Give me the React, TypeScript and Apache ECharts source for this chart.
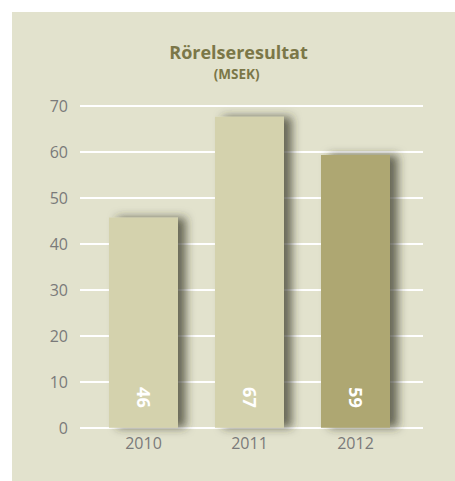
import React, { useEffect, useRef } from "react";
import * as echarts from "echarts";

const categories = ["2010", "2011", "2012"];
const values = [45.7, 67.6, 59.3];
const valueLabels = ["46", "67", "59"];
const barColors = ["#d4d2ad", "#d4d2ad", "#aea772"];
const yTicks = { min: 0, max: 70, interval: 10 };
const titleText = "Rörelseresultat";
const subtitleText = "(MSEK)";

export default function App() {
  const ref = useRef<HTMLDivElement>(null);
  useEffect(() => {
    if (!ref.current) return;
    const chart = echarts.init(ref.current, null, { renderer: "svg" });
    const font = "'Open Sans', sans-serif";
    const top = 105.7;
    const bottom = 481 - 427.7;
    chart.setOption({
      animation: false,
      backgroundColor: "#ffffff",
      graphic: [
        {
          type: "rect",
          shape: { x: 12, y: 12, width: 443, height: 469 },
          style: { fill: "#e2e2cd" },
          z: -10,
          silent: true,
        },
        {
          type: "text",
          x: 238.5,
          y: 51.5,
          style: {
            text: titleText,
            fill: "#7b7748",
            font: `bold 18px ${font}`,
            textAlign: "center",
            textVerticalAlign: "middle",
          },
        },
        {
          type: "text",
          x: 236.7,
          y: 73.5,
          style: {
            text: subtitleText,
            fill: "#7b7748",
            font: `bold 13.5px ${font}`,
            textAlign: "center",
            textVerticalAlign: "middle",
          },
        },
      ],
      grid: [
        { left: 80, right: 32, top, bottom },
        { left: 90.5, width: 318, top, bottom },
      ],
      xAxis: [
        { type: "category", gridIndex: 0, data: categories, show: false },
        {
          type: "category",
          gridIndex: 1,
          data: categories,
          axisLine: { show: false },
          axisTick: { show: false },
          axisLabel: { color: "#7a7a7a", fontSize: 16, fontFamily: font, margin: 7 },
        },
      ],
      yAxis: [
        {
          type: "value",
          gridIndex: 0,
          min: yTicks.min,
          max: yTicks.max,
          interval: yTicks.interval,
          axisLine: { show: false },
          axisTick: { show: false },
          axisLabel: { color: "#7a7a7a", fontSize: 16, fontFamily: font, margin: 12 },
          splitLine: { lineStyle: { color: "#ffffff", width: 2 } },
        },
        {
          type: "value",
          gridIndex: 1,
          min: yTicks.min,
          max: yTicks.max,
          interval: yTicks.interval,
          show: false,
          splitLine: { show: false },
        },
      ],
      series: [
        {
          type: "bar",
          xAxisIndex: 1,
          yAxisIndex: 1,
          barWidth: 69,
          data: values.map((v, i) => ({
            value: v,
            itemStyle: {
              color: barColors[i],
              shadowColor: "rgba(50,50,35,0.7)",
              shadowBlur: 10,
              shadowOffsetX: 8,
              shadowOffsetY: 0,
            },
          })),
          label: {
            show: true,
            position: "insideBottom",
            distance: 20,
            rotate: -90,
            align: "right",
            verticalAlign: "middle",
            color: "#ffffff",
            fontSize: 18,
            fontWeight: "bold",
            fontFamily: font,
            formatter: (p: any) => valueLabels[p.dataIndex],
          },
        },
      ],
    });
    return () => chart.dispose();
  }, []);
  return (
    <div
      ref={ref}
      style={{ position: "absolute", left: 0, top: 0, width: 455, height: 481 }}
    />
  );
}
